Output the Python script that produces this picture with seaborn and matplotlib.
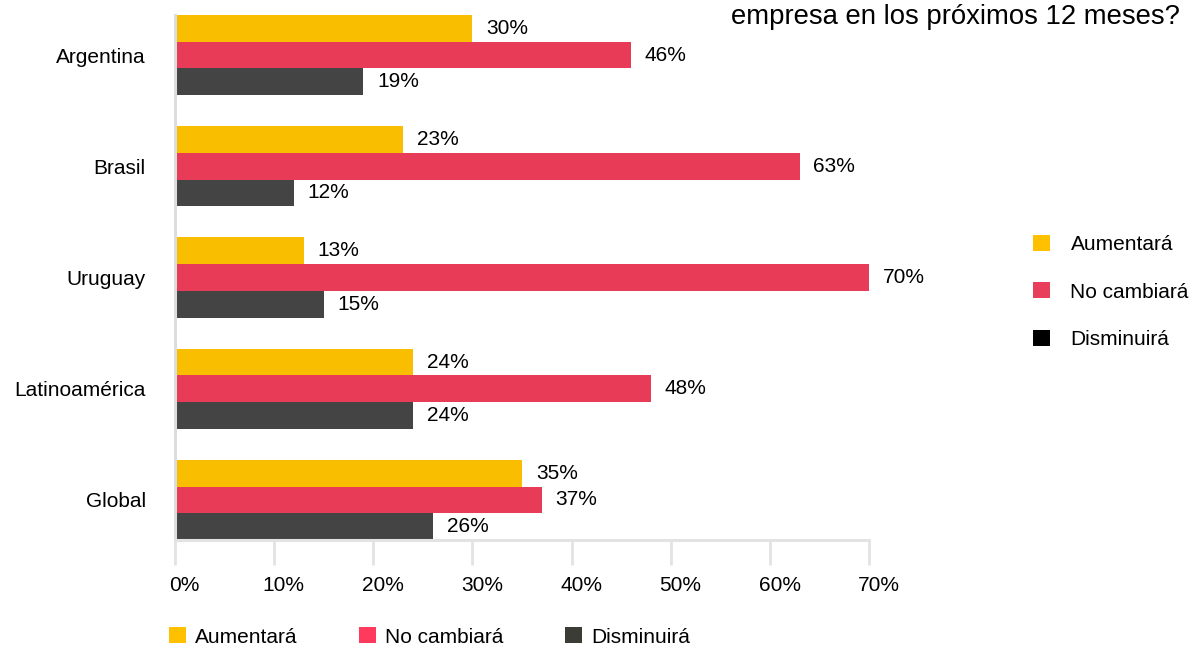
import matplotlib
matplotlib.use("Agg")
import matplotlib.pyplot as plt
import matplotlib.transforms as mtransforms
from matplotlib.patches import Patch
import seaborn as sns
import pandas as pd

# Survey answers per region (percent of respondents)
regions = ["Argentina", "Brasil", "Uruguay", "Latinoamérica", "Global"]
answers = ["Aumentará", "No cambiará", "Disminuirá"]
aumentara = [30, 23, 13, 24, 35]
no_cambiara = [46, 63, 70, 48, 37]
disminuira = [19, 12, 15, 24, 26]
x_ticks = [0, 10, 20, 30, 40, 50, 60, 70]
x_tick_labels = ["0%", "10%", "20%", "30%", "40%", "50%", "60%", "70%"]
title_line = "empresa en los próximos 12 meses?"

bar_colors = ["#F9BE00", "#E83B57", "#444444"]
side_legend_colors = ["#FFC000", "#E83E5B", "#000000"]
bottom_legend_colors = ["#FFC000", "#FF3A5C", "#3C3C37"]

df = pd.DataFrame({
    "region": regions * 3,
    "answer": [answers[0]] * 5 + [answers[1]] * 5 + [answers[2]] * 5,
    "value": aumentara + no_cambiara + disminuira,
})

sns.set_theme(style="white")
plt.rcParams["font.family"] = ["Liberation Sans", "DejaVu Sans"]
plt.rcParams["text.color"] = "#000000"

FS = 15

fig = plt.figure(figsize=(11.96, 6.5), dpi=100)
ax = fig.add_axes([175 / 1196, 110 / 650, 694 / 1196, 525 / 650])

sns.barplot(
    data=df, y="region", x="value", hue="answer",
    order=regions, hue_order=answers, palette=bar_colors,
    orient="h", width=0.72, saturation=1, legend=False, ax=ax,
    linewidth=0, edgecolor="none",
)

for container in ax.containers:
    ax.bar_label(container, fmt="%.0f%%", padding=10, fontsize=FS, color="#000000")

ax.set_xlim(0, 70)
ax.set_ylim(4.36, -0.36)
ax.set_xlabel("")
ax.set_ylabel("")
ax.set_xticks(x_ticks)
ax.set_xticklabels(x_tick_labels, fontsize=FS, color="#000000")
ax.tick_params(axis="x", length=18, width=2, color="#E3E3E3", pad=8, bottom=True)
ax.tick_params(axis="y", length=0, pad=21, labelsize=FS, labelcolor="#000000")
offset = mtransforms.ScaledTranslation(7 / 72, 0, fig.dpi_scale_trans)
for lbl in ax.get_xticklabels():
    lbl.set_transform(lbl.get_transform() + offset)

for side in ["top", "right"]:
    ax.spines[side].set_visible(False)
ax.spines["left"].set_color("#DDDDDD")
ax.spines["left"].set_linewidth(2.2)
ax.spines["bottom"].set_color("#E3E3E3")
ax.spines["bottom"].set_linewidth(2.2)

fig.text(1180 / 1196, 1 - 17 / 650, title_line, ha="right", va="center", fontsize=19.8)

side_handles = [Patch(facecolor=c, edgecolor="none") for c in side_legend_colors]
fig.legend(
    side_handles, answers, loc="center left", bbox_to_anchor=(1033 / 1196, 1 - 292 / 650),
    frameon=False, fontsize=FS, handlelength=0.8, handleheight=0.8,
    handletextpad=1.0, labelspacing=1.35, borderpad=0, borderaxespad=0,
)

bottom_handles = [Patch(facecolor=c, edgecolor="none") for c in bottom_legend_colors]
fig.legend(
    bottom_handles, answers, loc="center left", bbox_to_anchor=(169 / 1196, 1 - 637 / 650),
    ncol=3, frameon=False, fontsize=FS, handlelength=0.8, handleheight=0.8,
    handletextpad=0.45, columnspacing=2.95, borderpad=0, borderaxespad=0,
)

fig.savefig("out.png", dpi=100, facecolor="white")
